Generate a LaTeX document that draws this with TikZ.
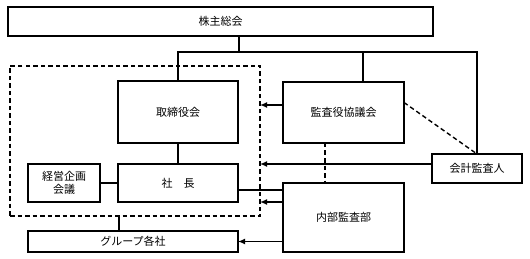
\documentclass[tikz,border=0pt]{standalone}
\usepackage{fontspec}
\setmainfont{Noto Sans CJK JP}
\usetikzlibrary{arrows.meta}
\tikzset{
  orgbox/.style={draw,line width=1.4pt,inner sep=0pt,outer sep=0pt,
                 font=\fontsize{11}{13}\selectfont,align=center},
  frameline/.style={draw,line width=1.4pt,dash pattern=on 4.5pt off 3pt,inner sep=0pt,outer sep=0pt},
  link/.style={line width=1.4pt},
  arr/.style={link,-{Latex[length=7pt,width=6pt]}}
}

\begin{document}
\begin{tikzpicture}[x=1pt,y=-1pt]
  \useasboundingbox (0,0) rectangle (530,259);
  % boxes
  \node[orgbox,minimum width=425pt,minimum height=29pt] (soukai) at (220.5,21.5) {株主総会};
  \node[frameline,minimum width=250pt,minimum height=150pt] (frame) at (135,141) {};
  \node[orgbox,minimum width=120pt,minimum height=62pt] (torishimari) at (178,112) {取締役会};
  \node[orgbox,minimum width=120pt,minimum height=38pt] (shacho) at (178,183) {社　長};
  \node[orgbox,minimum width=72pt,minimum height=38pt] (keiei) at (64,183) {経営企画\\会議};
  \node[orgbox,minimum width=210pt,minimum height=21pt] (group) at (133,241.5) {グループ各社};
  \node[orgbox,minimum width=121pt,minimum height=61pt] (kansayaku) at (343.5,112.5) {監査役協議会};
  \node[orgbox,minimum width=90pt,minimum height=29pt] (kaikei) at (477,168.5) {会計監査人};
  \node[orgbox,minimum width=121pt,minimum height=69pt] (naibu) at (343.5,217.5) {内部監査部};
  \coordinate (jn) at (239,52);
  \coordinate (gx) at (119,0);
  \coordinate (ka) at ([yshift=7.5pt]kansayaku.west);
  \coordinate (kk) at ([yshift=4.5pt]kaikei.west);
  \coordinate (sh) at ([yshift=-7pt]shacho.east);
  \coordinate (nb) at ([yshift=15.5pt]naibu.west);
  % lines from the general meeting
  \draw[link] (soukai.south -| jn) -- (jn);
  \draw[link] (torishimari.north) |- (kaikei.north |- jn) -- (kaikei.north);
  \draw[link] ([xshift=19.5pt]kansayaku.north) -- ([xshift=19.5pt]kansayaku.north |- jn);
  % inside the frame
  \draw[link] (torishimari.south) -- (shacho.north);
  \draw[link] (keiei.east) -- (shacho.west);
  \draw[link] (frame.south -| gx) -- (group.north -| gx);
  % audits
  \draw[arr] (ka) -- (frame.east |- ka);
  \draw[arr] (kk) -- (frame.east |- kk);
  \draw[link,dash pattern=on 4.5pt off 3pt] ([yshift=10pt]kansayaku.east) -- (kaikei.north);
  \draw[link,dash pattern=on 4.5pt off 3pt] ([xshift=-18.5pt]kansayaku.south) -- ([xshift=-18.5pt]naibu.north);
  \draw[link] (sh) -- (naibu.west |- sh);
  \draw[arr] (nb) -- (frame.east |- nb);
  \draw[arr] (naibu.west |- group.east) -- (group.east);
\end{tikzpicture}
\end{document}
